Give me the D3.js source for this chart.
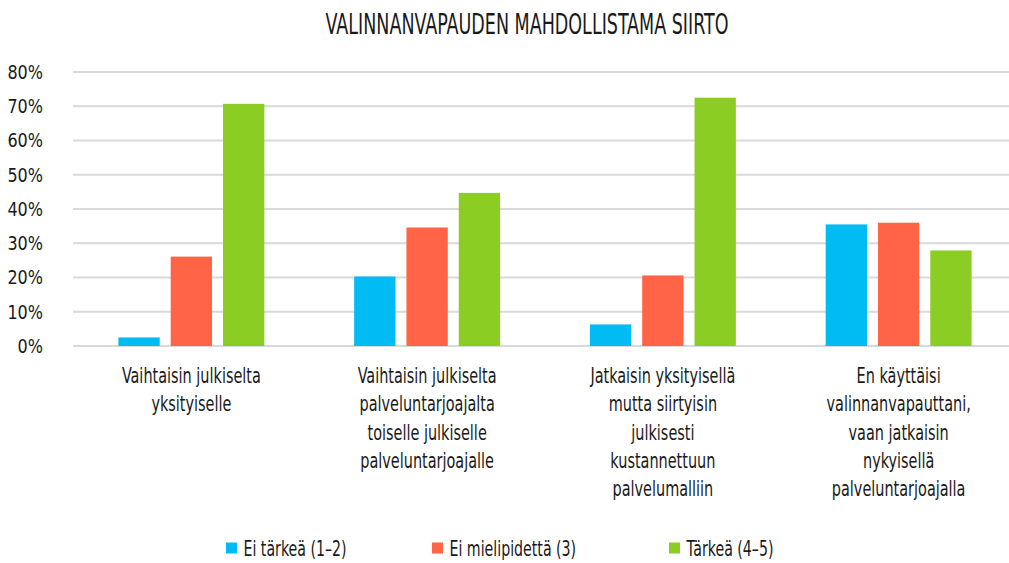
<!DOCTYPE html>
<html>
<head>
<meta charset="utf-8">
<script src="https://cdn.jsdelivr.net/npm/d3@7"></script>
<style>
  body { margin: 0; background: #fff; }
  svg text { font-family: "DejaVu Sans Condensed", "DejaVu Sans", sans-serif; fill: #1a1a1a; }
</style>
</head>
<body>
<svg width="1009" height="563"></svg>
<script>
var categories = [
  "Vaihtaisin julkiselta\nyksityiselle",
  "Vaihtaisin julkiselta\npalveluntarjoajalta\ntoiselle julkiselle\npalveluntarjoajalle",
  "Jatkaisin yksityisellä\nmutta siirtyisin\njulkisesti\nkustannettuun\npalvelumalliin",
  "En käyttäisi\nvalinnanvapauttani,\nvaan jatkaisin\nnykyisellä\npalveluntarjoajalla"
];
var seriesNames = ["Ei tärkeä (1–2)", "Ei mielipidettä (3)", "Tärkeä (4–5)"];
var eiTarkea = [0.025, 0.203, 0.063, 0.355];
var eiMielipidetta = [0.261, 0.346, 0.206, 0.36];
var tarkea = [0.707, 0.447, 0.725, 0.279];
var yTicks = [0, 0.1, 0.2, 0.3, 0.4, 0.5, 0.6, 0.7, 0.8];
var colors = ["#00bcf2", "#ff6446", "#8bcd23"];

var svg = d3.select('svg');
var plot = {l: 73.6, r: 1016.4, t: 72, b: 346};

var seriesValues = [eiTarkea, eiMielipidetta, tarkea];

var x0 = d3.scaleBand()
  .domain(categories)
  .range([plot.l, plot.r])
  .paddingInner(0.381)
  .paddingOuter(0.19);

var x1 = d3.scaleBand()
  .domain(seriesNames)
  .range([0, x0.bandwidth()])
  .paddingInner(0.21);

var y = d3.scaleLinear().domain([0, 0.8]).range([plot.b, plot.t]);

// title (squeezed to look like a condensed face)
svg.append('text')
  .attr('transform', 'translate(527,34) scale(0.672,1)')
  .attr('text-anchor', 'middle')
  .style('font-size', '29px')
  .text('VALINNANVAPAUDEN MAHDOLLISTAMA SIIRTO');

// gridlines
svg.append('g').selectAll('line')
  .data(yTicks)
  .join('line')
  .attr('x1', 73)
  .attr('x2', 1009)
  .attr('y1', d => y(d))
  .attr('y2', d => y(d))
  .attr('stroke', '#d9d9d9')
  .attr('stroke-width', 2);

// y axis labels
var yAxis = d3.axisLeft(y).tickValues(yTicks).tickFormat(d3.format('.0%')).tickSize(0).tickPadding(0);
var yg = svg.append('g')
  .attr('transform', 'translate(43,0)')
  .call(yAxis);
yg.select('.domain').remove();
yg.selectAll('text')
  .attr('transform', 'scale(0.89,1)')
  .attr('fill', '#1a1a1a')
  .style('font-size', '20px')
  .style('font-family', '"DejaVu Sans Condensed", "DejaVu Sans", sans-serif');

// bars
var rows = [];
seriesNames.forEach(function(s, i) {
  categories.forEach(function(c, j) {
    rows.push({series: s, cat: c, value: seriesValues[i][j], color: colors[i]});
  });
});

svg.append('g').selectAll('rect')
  .data(rows)
  .join('rect')
  .attr('x', d => x0(d.cat) + x1(d.series))
  .attr('width', x1.bandwidth())
  .attr('y', d => y(d.value))
  .attr('height', d => y(0) - y(d.value))
  .attr('fill', d => d.color);

// category labels
var catLabels = svg.append('g').selectAll('text')
  .data(categories)
  .join('text')
  .attr('text-anchor', 'middle')
  .attr('transform', d => 'translate(' + (x0(d) + x0.bandwidth() / 2) + ',383) scale(0.73,1)')
  .style('font-size', '22px');

catLabels.selectAll('tspan')
  .data(d => d.split('\n'))
  .join('tspan')
  .attr('x', 0)
  .attr('dy', (d, i) => i === 0 ? 0 : 28.3)
  .text(d => d);

// legend
var legendX = [226, 432, 669];
var legend = svg.append('g').selectAll('g')
  .data(seriesNames)
  .join('g')
  .attr('transform', (d, i) => 'translate(' + legendX[i] + ',542.5)');

legend.append('rect')
  .attr('width', 11)
  .attr('height', 11)
  .attr('fill', (d, i) => colors[i]);

legend.append('text')
  .attr('transform', 'translate(17.5,13.2) scale(0.75,1)')
  .style('font-size', '21px')
  .text(d => d);
</script>
</body>
</html>
